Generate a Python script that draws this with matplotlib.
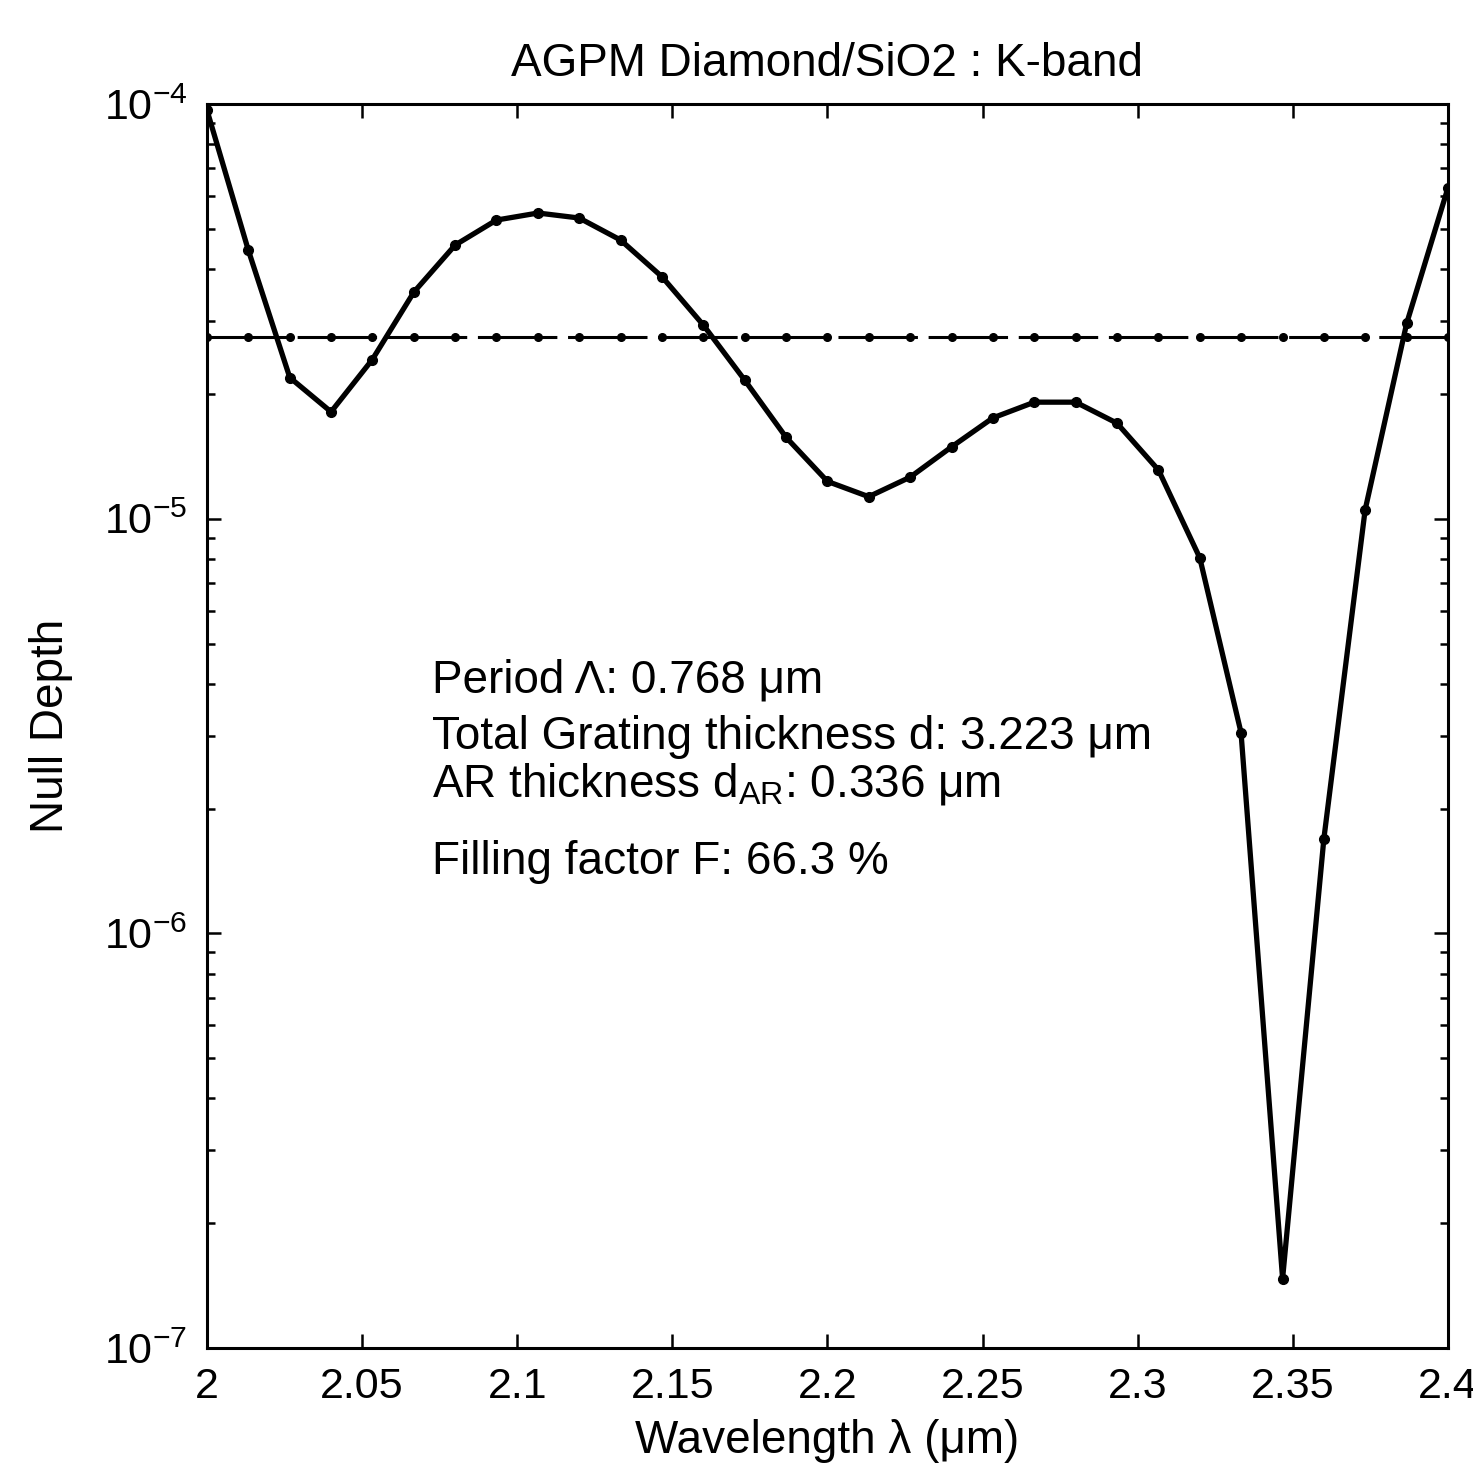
import matplotlib
matplotlib.use("Agg")
import matplotlib.pyplot as plt
import numpy as np
from matplotlib.ticker import FixedLocator, FormatStrFormatter, LogLocator, NullFormatter

plt.rcParams['font.family'] = ['Liberation Sans', 'DejaVu Sans']
plt.rcParams['mathtext.fontset'] = 'custom'
plt.rcParams['mathtext.rm'] = 'Liberation Sans'
plt.rcParams['mathtext.it'] = 'Liberation Sans'

# wavelength samples (um) and null depth
wavelength = [2.0, 2.0133, 2.0267, 2.04, 2.0533, 2.0667, 2.08, 2.0933, 2.1067, 2.12,
              2.1333, 2.1467, 2.16, 2.1733, 2.1867, 2.2, 2.2133, 2.2267, 2.24, 2.2533,
              2.2667, 2.28, 2.2933, 2.3067, 2.32, 2.3333, 2.3467, 2.36, 2.3733, 2.3867, 2.4]
null_depth = [9.67e-5, 4.45e-5, 2.19e-5, 1.81e-5, 2.42e-5, 3.52e-5, 4.57e-5, 5.25e-5, 5.46e-5, 5.31e-5,
              4.70e-5, 3.83e-5, 2.93e-5, 2.16e-5, 1.57e-5, 1.23e-5, 1.13e-5, 1.26e-5, 1.49e-5, 1.75e-5,
              1.91e-5, 1.91e-5, 1.70e-5, 1.31e-5, 8.05e-6, 3.05e-6, 1.47e-7, 1.69e-6, 1.05e-5, 2.96e-5, 6.28e-5]
mean_depth = 2.75e-5

xticks = [2, 2.05, 2.1, 2.15, 2.2, 2.25, 2.3, 2.35, 2.4]
yticks = [1e-7, 1e-6, 1e-5, 1e-4]

fig = plt.figure(figsize=(14.73, 14.82), dpi=100)
ax = fig.add_axes([0.1405, 0.0904, 0.8425, 0.8394])

ax.plot(wavelength, [mean_depth] * len(wavelength), color='black', lw=2.2,
        dashes=(26, 3.5), marker='o', markersize=5.5)
ax.plot(wavelength, null_depth, color='black', lw=3.8, marker='o', markersize=7)

ax.set_yscale('log')
ax.set_xlim(2, 2.4)
ax.set_ylim(1e-7, 1e-4)
ax.xaxis.set_major_locator(FixedLocator(xticks))
ax.xaxis.set_major_formatter(FormatStrFormatter('%g'))
ax.yaxis.set_major_locator(FixedLocator(yticks))
ax.yaxis.set_minor_locator(LogLocator(base=10, subs=np.arange(2, 10)))
ax.yaxis.set_minor_formatter(NullFormatter())

ax.tick_params(which='both', direction='in', top=True, right=True, width=1.8)
ax.tick_params(which='major', length=10, labelsize=31, pad=14)
ax.tick_params(which='minor', length=6)
for s in ax.spines.values():
    s.set_linewidth(2.2)

ax.set_title('AGPM Diamond/SiO2 : K-band', fontsize=33, pad=20)
ax.set_xlabel('Wavelength λ (μm)', fontsize=33, labelpad=8)
ax.set_ylabel('Null Depth', fontsize=33, labelpad=22)

info = ['Period Λ: 0.768 μm',
        'Total Grating thickness d: 3.223 μm',
        'AR thickness d$_{\\mathrm{AR}}$: 0.336 μm',
        'Filling factor F: 66.3 %']
ypos = [0.537, 0.491, 0.453, 0.391]
for t, y in zip(info, ypos):
    ax.text(0.181, y, t, transform=ax.transAxes, fontsize=33, va='center', ha='left')

fig.savefig('out.png', dpi=100, facecolor='white')
